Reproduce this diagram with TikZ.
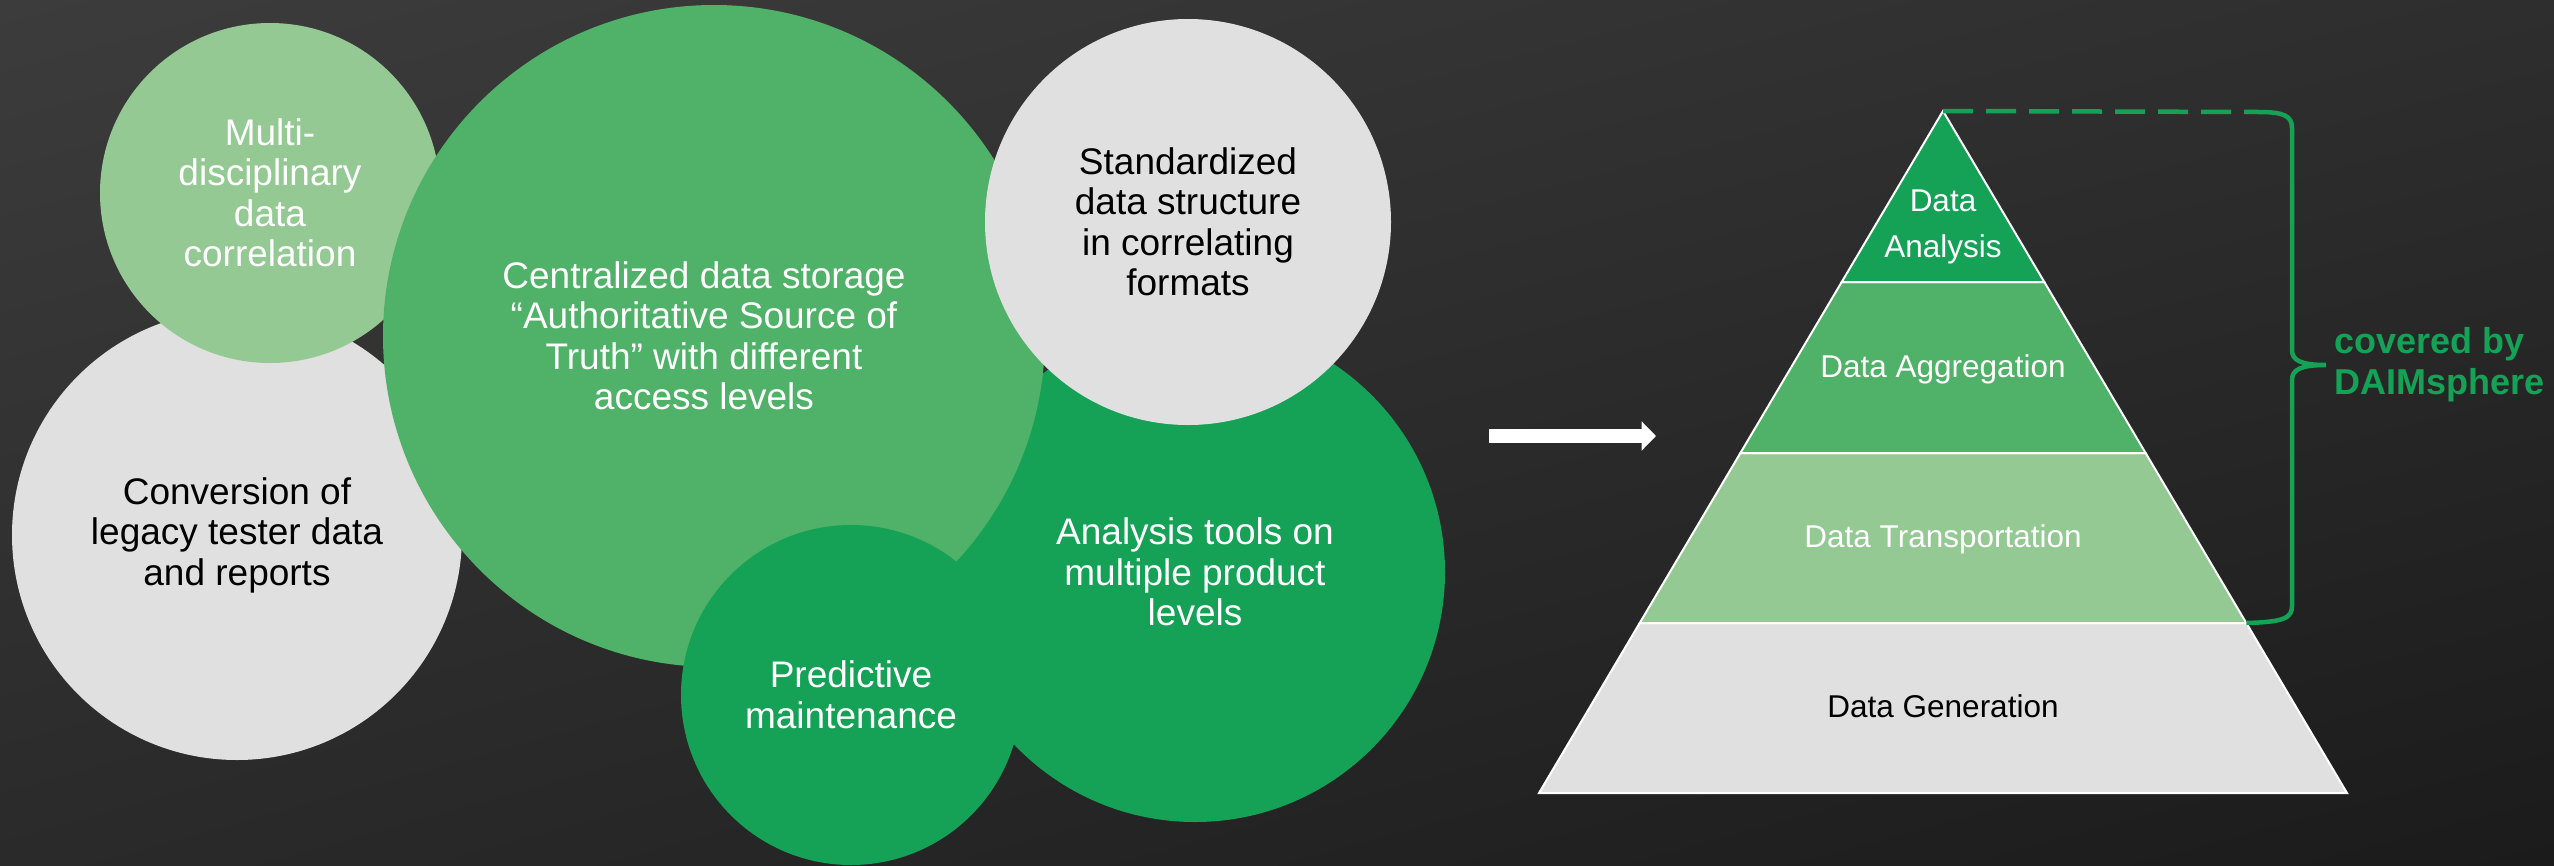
\documentclass[tikz,border=0pt]{standalone}
\usepackage{fontspec}
\setmainfont{Liberation Sans}
\usetikzlibrary{arrows.meta,shadings}

\definecolor{bubblegrey}{HTML}{E0E0E0}
\definecolor{lightgreen}{HTML}{95C994}
\definecolor{midgreen}{HTML}{50B168}
\definecolor{darkgreen}{HTML}{15A257}
\definecolor{bgtl}{HTML}{3C3C3C}
\definecolor{bgtr}{HTML}{2E2E2E}
\definecolor{bgbl}{HTML}{2A2A2A}
\definecolor{bgbr}{HTML}{1B1B1B}

\begin{document}
\begin{tikzpicture}[x=1pt, y=-1pt,
  bubble/.style={circle, inner sep=0pt, align=center, font=\fontsize{37}{40.5}\selectfont},
  layer/.style={draw=white, line width=2pt},
  tier/.style={align=center, inner sep=0pt, font=\fontsize{31.5}{46}\selectfont},
  bracket/.style={draw=darkgreen, line width=4.5pt}]
\shade[upper left=bgtl, upper right=bgtr, lower left=bgbl, lower right=bgbr] (0,0) rectangle (2554,865);
\useasboundingbox (0,0) rectangle (2554,865);
%
\node[bubble, fill=darkgreen, text=white, minimum size=500pt] (tools) at (1195,572) {Analysis tools on\\multiple product\\levels};
\node[bubble, fill=bubblegrey, minimum size=450pt] (legacy) at (237,535) {Conversion of\\legacy tester data\\and reports};
\node[bubble, fill=lightgreen, text=white, minimum size=340pt] (multi) at (270,193) {Multi-\\disciplinary\\data\\correlation};
\node[bubble, fill=midgreen, minimum size=662pt,
  label={[align=center, text=white, xshift=-10pt, font=\fontsize{37}{40.5}\selectfont]center:{Centralized data storage\\“Authoritative Source of\\Truth” with different\\access levels}}] (storage) at (714,336) {};
\node[bubble, fill=bubblegrey, minimum size=406pt] (standard) at (1188,222) {Standardized\\data structure\\in correlating\\formats};
\node[bubble, fill=darkgreen, text=white, minimum size=340pt] (predict) at (851,695) {Predictive\\maintenance};
%
\coordinate (arrowtail) at (1489,436);
\coordinate (arrowtip) at (1656,436);
\draw[white, line width=13.7pt, -{Triangle[length=14.3pt, width=28.3pt]}] (arrowtail) -- (arrowtip);
%
\coordinate (apex) at (1943,111);
\coordinate (l1) at (1841.7,282); \coordinate (r1) at (2044.3,282);
\coordinate (l2) at (1740.4,453); \coordinate (r2) at (2145.6,453);
\coordinate (l3) at (1639.7,623); \coordinate (r3) at (2246.3,623);
\coordinate (l4) at (1539,793);   \coordinate (r4) at (2347,793);
\filldraw[layer, fill=bubblegrey] (l3) -- (r3) -- (r4) -- (l4) -- cycle;
\filldraw[layer, fill=lightgreen] (l2) -- (r2) -- (r3) -- (l3) -- cycle;
\filldraw[layer, fill=midgreen] (l1) -- (r1) -- (r2) -- (l2) -- cycle;
\filldraw[layer, fill=darkgreen] (apex) -- (r1) -- (l1) -- cycle;
\node[tier, text=white] (analysis) at (1943,227) {Data\\Analysis};
\node[tier, text=white] (aggregation) at (1943,369) {Data Aggregation};
\node[tier, text=white] (transport) at (1943,539) {Data Transportation};
\node[tier] (generation) at (1943,706) {Data Generation};
%
\coordinate (bracetop) at (2259,112);
\coordinate (bracetip) at (2326,365);
\draw[bracket, dash pattern=on 30pt off 13pt] (apex) -- (bracetop);
\draw[bracket] (bracetop) .. controls (2284,112) and (2292,116) .. (2292,128)
  -- (2292,350) .. controls (2292,360) and (2300,365) .. (bracetip)
  .. controls (2300,365) and (2292,370) .. (2292,380)
  -- (2292,606) .. controls (2292,618) and (2284,622) .. (r3);
\draw (bracetip)++(8,0) node[anchor=west, align=left, inner sep=0pt, text=darkgreen,
  font=\bfseries\fontsize{36}{41}\selectfont] (covered) {covered by\\DAIMsphere};
\end{tikzpicture}
\end{document}
